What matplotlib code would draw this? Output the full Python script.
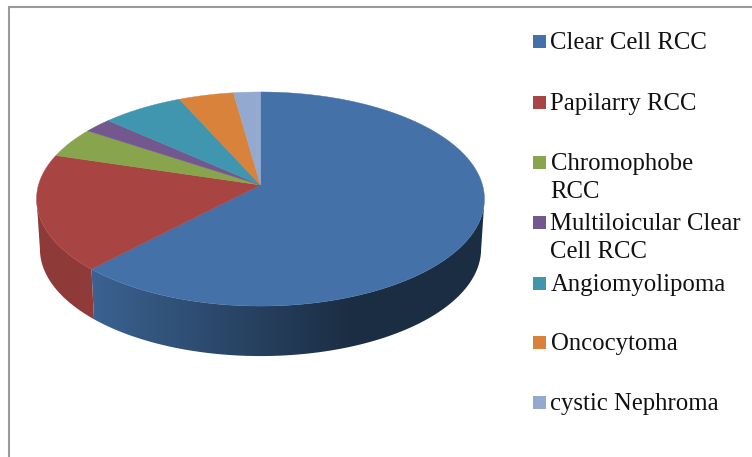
import numpy as np
import matplotlib
matplotlib.use("Agg")
import matplotlib.pyplot as plt
from matplotlib.patches import Rectangle, Polygon

categories = ["Clear Cell RCC", "Papilarry RCC", "Chromophobe\nRCC",
              "Multiloicular Clear\nCell RCC", "Angiomyolipoma", "Oncocytoma", "cystic Nephroma"]
values = [62.1, 17.6, 4.6, 2.3, 6.7, 4.5, 2.2]
colors = ["#4472A8", "#A84543", "#88A44D", "#72588E", "#4096AE", "#D8823C", "#93A9CF"]
legend_y = [41, 102, 162, 222, 283, 342, 402]

W, H = 752, 457
fig = plt.figure(figsize=(W / 100, H / 100), dpi=100, facecolor="white")
ax = fig.add_axes([0, 0, 1, 1])
ax.set_xlim(0, W)
ax.set_ylim(H, 0)
ax.axis("off")

CX, CY, BX, BY, K = 260.5, 185.0, 222.0, 105.2, 0.131
DEPTH, SHRINK = 50.0, 0.985


def project(phi):
    s, t = np.sin(phi), -np.cos(phi)
    d = 1 - K * t
    return BX * s / d, BY * t / d


fracs = np.array(values) / sum(values)
edges = np.concatenate([[0], np.cumsum(fracs)]) * 2 * np.pi

# side wall: a horizontal shading ramp clipped to each slice's visible rim
ramp_x = np.arange(30, 495, 1.0)
ramp = np.interp(ramp_x, [37, 92, 350, 485], [0.84, 0.86, 0.40, 0.40])
for i, col in enumerate(colors):
    lo, hi = edges[i], edges[i + 1]
    phis = np.linspace(lo, hi, 400)
    phis = phis[-np.cos(phis) >= K]
    if len(phis) < 2:
        continue
    x, y = project(phis)
    px = np.r_[CX + x, CX + x[::-1] * SHRINK]
    py = np.r_[CY + y, CY + y[::-1] + DEPTH]
    base = np.array(matplotlib.colors.to_rgb(col))
    img = ramp[None, :, None] * base[None, None, :]
    im = ax.imshow(img, extent=(ramp_x[0], ramp_x[-1], 370, 150), aspect="auto",
                   interpolation="bilinear", zorder=1)
    poly = Polygon(np.c_[px, py], closed=True, transform=ax.transData, facecolor="none", edgecolor="none")
    ax.add_patch(poly)
    im.set_clip_path(poly)
ax.set_xlim(0, W)
ax.set_ylim(H, 0)

# top face
for i, col in enumerate(colors):
    phis = np.linspace(edges[i], edges[i + 1], 200)
    x, y = project(phis)
    ax.fill(np.r_[CX, CX + x], np.r_[CY, CY + y], facecolor=col, edgecolor=col, linewidth=0.3, zorder=2)

# legend
for label, col, y in zip(categories, colors, legend_y):
    ax.add_patch(Rectangle((533, y - 6.5), 13, 13, facecolor=col, edgecolor="none"))
    for j, line in enumerate(label.split("\n")):
        ax.text(550.5, y + 8.2 + 28 * j, line, family="Liberation Serif", fontsize=17.8,
                color="#111111", va="baseline", ha="left")

# frame
ax.plot([9, 9, W], [H, 7, 7], color="#9a9a9a", linewidth=1.5, solid_joinstyle="miter", clip_on=False)

fig.savefig("out.png", dpi=100)
